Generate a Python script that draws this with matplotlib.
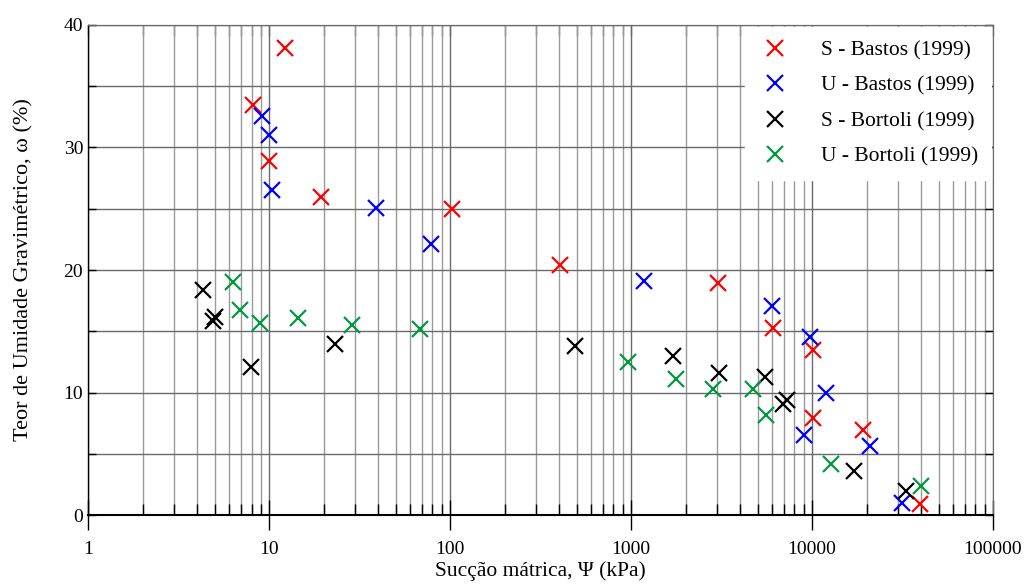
import matplotlib
import matplotlib.pyplot as plt
from matplotlib.ticker import LogLocator, FixedLocator, NullFormatter

matplotlib.use("agg")

plt.rcParams["font.family"] = ["Liberation Serif", "DejaVu Serif"]

# S - Bastos (1999)
s_bastos_x = [12.2, 8.2, 10.0, 19.4, 102, 405, 3030, 6090, 10100, 10100, 19100, 39500]
s_bastos_y = [38.1, 33.5, 28.9, 26.0, 25.0, 20.4, 18.9, 15.3, 13.5, 7.9, 6.9, 0.9]

# U - Bastos (1999)
u_bastos_x = [9.15, 10.0, 10.4, 39, 78.5, 1180, 6010, 9800, 11950, 9040, 20900, 31400]
u_bastos_y = [32.6, 31.0, 26.5, 25.1, 22.1, 19.1, 17.1, 14.5, 10.0, 6.5, 5.6, 1.0]

# S - Bortoli (1999)
s_bortoli_x = [4.3, 5.0, 4.9, 7.96, 23.2, 491, 1707, 3060, 5500, 6920, 7280, 17060, 33050]
s_bortoli_y = [18.4, 16.2, 15.8, 12.1, 14.0, 13.8, 13.0, 11.6, 11.3, 9.1, 9.4, 3.6, 2.0]

# U - Bortoli (1999)
u_bortoli_x = [6.33, 6.91, 8.92, 14.5, 28.7, 68.3, 962, 1774, 2840, 4720, 5570, 12730, 40000]
u_bortoli_y = [19.0, 16.7, 15.7, 16.1, 15.5, 15.2, 12.5, 11.1, 10.3, 10.3, 8.2, 4.2, 2.4]

fig = plt.figure(figsize=(10.25, 5.88), dpi=100)
ax = fig.add_axes([0.0859, 0.1241, 0.8829, 0.8334])

mk = dict(linestyle="none", marker="x", markersize=12, markeredgewidth=1.6, zorder=3)
ax.plot(s_bastos_x, s_bastos_y, color="#ff0000", label="S - Bastos (1999)", **mk)
ax.plot(u_bastos_x, u_bastos_y, color="#0000ff", label="U - Bastos (1999)", **mk)
ax.plot(s_bortoli_x, s_bortoli_y, color="#000000", label="S - Bortoli (1999)", **mk)
ax.plot(u_bortoli_x, u_bortoli_y, color="#00993f", label="U - Bortoli (1999)", **mk)

ax.set_xscale("log")
ax.set_xlim(1, 100000)
ax.set_ylim(0, 40)
ax.xaxis.set_minor_locator(LogLocator(base=10, subs=range(2, 10), numticks=100))
ax.xaxis.set_minor_formatter(NullFormatter())
ax.set_xticks([1, 10, 100, 1000, 10000, 100000])
ax.set_xticklabels(["1", "10", "100", "1000", "10000", "100000"])
ax.set_yticks([0, 10, 20, 30, 40])
ax.yaxis.set_minor_locator(FixedLocator([5, 15, 25, 35]))

ax.grid(True, which="major", color="#6a6a6a", linewidth=1)
ax.grid(True, which="minor", axis="x", color="#9a9a9a", linewidth=1)
ax.grid(True, which="minor", axis="y", color="#6a6a6a", linewidth=1)

ax.tick_params(axis="x", which="major", direction="inout", length=22, width=1,
               labelsize=14, pad=8, top=False)
ax.tick_params(axis="x", which="minor", direction="in", length=8, width=1, top=False)
ax.tick_params(axis="y", which="both", direction="in", length=6, width=1,
               labelsize=14, right=True)

# top axis: short inward ticks only
top = ax.secondary_xaxis("top")
top.set_xticks([1, 10, 100, 1000, 10000, 100000])
top.xaxis.set_minor_locator(LogLocator(base=10, subs=range(2, 10), numticks=100))
top.xaxis.set_minor_formatter(NullFormatter())
top.tick_params(which="both", direction="in", length=8, width=1, labeltop=False,
                color="#6a6a6a")
top.spines["top"].set_color("#6a6a6a")

ax.spines["top"].set_color("#6a6a6a")
ax.spines["right"].set_color("#6a6a6a")
ax.spines["bottom"].set_linewidth(1.5)
ax.spines["left"].set_linewidth(1)

ax.set_xlabel("Sucção mátrica, Ψ (kPa)", fontsize=15.5, labelpad=2)
ax.set_ylabel("Teor de Umidade Gravimétrico, ω (%)", fontsize=16, labelpad=22)

leg = ax.legend(loc="upper right", fontsize=15.5, frameon=True, fancybox=False,
                framealpha=1, edgecolor="white", borderaxespad=0.1,
                handletextpad=1.3, handlelength=1.6, labelspacing=0.72,
                borderpad=0.6)
leg.set_zorder(5)

fig.savefig("out.png", dpi=100)
